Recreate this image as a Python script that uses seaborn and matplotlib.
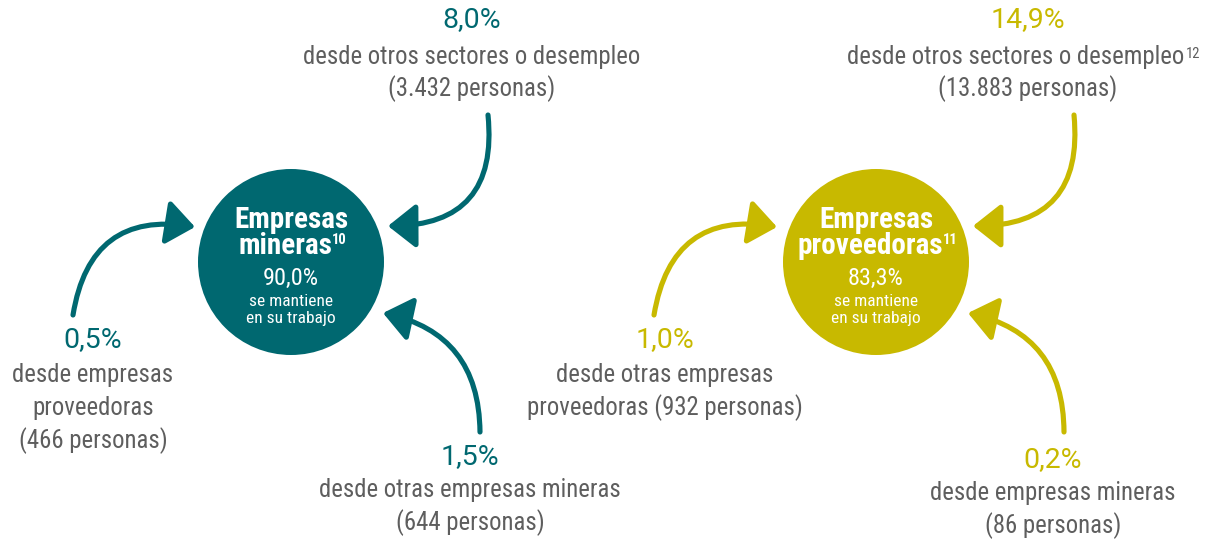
import matplotlib
matplotlib.use("Agg")
import matplotlib.pyplot as plt
import seaborn as sns
from matplotlib.patches import Circle, FancyArrowPatch
from matplotlib import font_manager

sns.set_theme(style="white")
names = {f.name for f in font_manager.fontManager.ttflist}
FONT = "Liberation Sans"
for cand in ["Roboto Condensed", "Liberation Sans Narrow", "IBM Plex Sans Condensed"]:
    if cand in names:
        FONT = cand
        break
PCT_FONT = "Roboto" if "Roboto" in names else "Liberation Sans"
plt.rcParams['font.family'] = [FONT, 'DejaVu Sans']

# ---- data ----
group_title = ["Empresas", "Empresas"]
group_sub = ["mineras", "proveedoras"]
group_notes = ["10", "11"]
stay_pct = ["90,0%", "83,3%"]
stay_label = ["se mantiene", "en su trabajo"]
top_pct = ["8,0%", "14,9%"]
top_label = ["desde otros sectores o desempleo", "desde otros sectores o desempleo"]
top_note = ["", "12"]
top_people = ["(3.432 personas)", "(13.883 personas)"]
side_pct = ["0,5%", "1,0%"]
side_lines = [["desde empresas", "proveedoras", "(466 personas)"],
              ["desde otras empresas", "proveedoras (932 personas)"]]
bottom_pct = ["1,5%", "0,2%"]
bottom_lines = [["desde otras empresas mineras", "(644 personas)"],
                ["desde empresas mineras", "(86 personas)"]]

colors = ["#006870", "#C8B900"]
GRAY = "#5e5e5e"

fig = plt.figure(figsize=(12.1, 5.4), dpi=100)
ax = fig.add_axes([0, 0, 1, 1])
ax.set_xlim(0, 1210)
ax.set_ylim(540, 0)
ax.axis("off")

centers = [(291, 262), (876, 262)]
R = 93
layout = [
    dict(top=(472, 20), side=(93, 340), bottom=(470, 457),
         a_top=((488, 115), (388, 226), -0.55),
         a_side=((73, 315), (195, 227), -0.5),
         a_bot=((480, 432), (383, 313), 0.4)),
    dict(top=(1028, 20), side=(665, 340), bottom=(1053, 460),
         a_top=((1074, 115), (973, 226), -0.55),
         a_side=((654, 315), (777, 227), -0.5),
         a_bot=((1064, 432), (968, 313), 0.4)),
]

fig.canvas.draw()
renderer = fig.canvas.get_renderer()
inv = ax.transData.inverted()

def add_sup(t, note, size, color, weight="normal", dy=0, dx=0):
    bb = t.get_window_extent(renderer)
    x1, ytop = inv.transform((bb.x1, bb.y1))
    ax.text(x1 + dx, ytop + dy, note, fontsize=size, color=color, weight=weight,
            ha="left", va="top", zorder=3)

LS = 33
PCT_FS = 20.5
TXT_FS = 17.8

for i in range(2):
    c = colors[i]
    cx, cy = centers[i]
    L = layout[i]
    ax.add_patch(Circle((cx, cy), R, color=c, zorder=2, lw=0))
    ax.text(cx, cy - 42, group_title[i], ha="center", va="center",
            fontsize=21, weight="bold", color="white", zorder=3)
    t2 = ax.text(cx - 6, cy - 16, group_sub[i], ha="center", va="center",
                 fontsize=21, weight="bold", color="white", zorder=3)
    fig.canvas.draw()
    add_sup(t2, group_notes[i], 10.5, "white", weight="bold", dy=1, dx=0)
    ax.text(cx, cy + 16, stay_pct[i], ha="center", va="center", fontsize=17.5,
            color="white", zorder=3)
    ax.text(cx, cy + 40, stay_label[0], ha="center", va="center", fontsize=12.5,
            color="white", zorder=3)
    ax.text(cx, cy + 57, stay_label[1], ha="center", va="center", fontsize=12.5,
            color="white", zorder=3)

    # top
    tx, ty = L["top"]
    ax.text(tx, ty, top_pct[i], ha="center", va="center", fontsize=PCT_FS, color=c,
            family=[PCT_FONT, 'DejaVu Sans'])
    shift = -12 if top_note[i] else 0
    tt = ax.text(tx + shift, ty + 37, top_label[i], ha="center", va="center",
                 fontsize=TXT_FS, color=GRAY)
    if top_note[i]:
        fig.canvas.draw()
        add_sup(tt, top_note[i], 10.5, GRAY, dy=2, dx=1)
    ax.text(tx, ty + 69, top_people[i], ha="center", va="center", fontsize=TXT_FS, color=GRAY)

    # side
    sx, sy = L["side"]
    ax.text(sx, sy, side_pct[i], ha="center", va="center", fontsize=PCT_FS, color=c,
            family=[PCT_FONT, 'DejaVu Sans'])
    for k, line in enumerate(side_lines[i]):
        ax.text(sx, sy + 35 + k * LS, line, ha="center", va="center", fontsize=TXT_FS, color=GRAY)

    # bottom
    bx, by = L["bottom"]
    ax.text(bx, by, bottom_pct[i], ha="center", va="center", fontsize=PCT_FS, color=c,
            family=[PCT_FONT, 'DejaVu Sans'])
    for k, line in enumerate(bottom_lines[i]):
        ax.text(bx, by + 33 + k * LS, line, ha="center", va="center", fontsize=TXT_FS, color=GRAY)

    for key in ["a_top", "a_side", "a_bot"]:
        p0, p1, rad = L[key]
        arr = FancyArrowPatch(p0, p1, connectionstyle=f"arc3,rad={rad}",
                              arrowstyle="-|>,head_length=0.95,head_width=0.75",
                              mutation_scale=18, lw=3.7, color=c, zorder=2,
                              shrinkA=0, shrinkB=0,
                              capstyle="round", joinstyle="round")
        ax.add_patch(arr)

fig.savefig("out.png", dpi=100, facecolor="white")
